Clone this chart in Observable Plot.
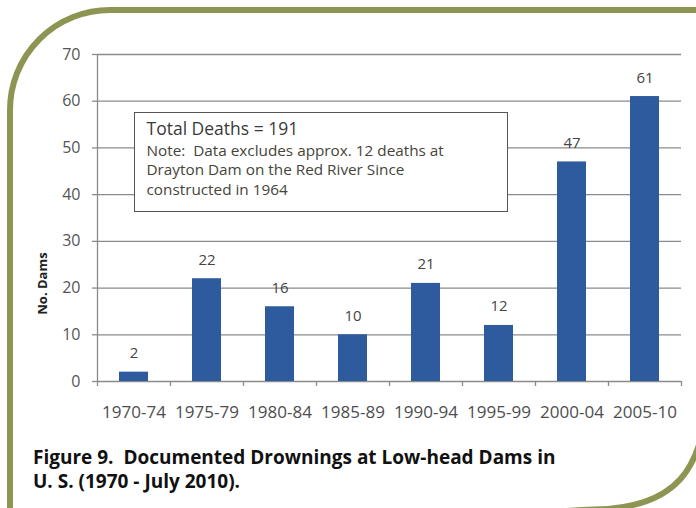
<!DOCTYPE html>
<html><head><meta charset="utf-8">
<script src="https://cdn.jsdelivr.net/npm/d3@7"></script>
<script src="https://cdn.jsdelivr.net/npm/@observablehq/plot@0.6"></script>
<style>
html,body{margin:0;padding:0;background:#fff;}
#wrap{position:relative;width:696px;height:508px;overflow:hidden;background:#fff;font-family:"Open Sans",sans-serif;}
#frame{position:absolute;left:0;top:0;}
#chart{position:absolute;left:0;top:0;}
#note{position:absolute;left:134px;top:112px;width:374px;height:100px;box-sizing:border-box;border:1.5px solid #555;background:#fff;padding:5px 0 0 11.5px;white-space:pre;}
#note .t{font-size:17.5px;line-height:20px;color:#3a3a3a;margin-bottom:2.5px;}
#note .n{font-size:15.3px;line-height:19.5px;color:#45453a;}
#caption{position:absolute;left:33px;top:445px;font-weight:bold;font-size:19px;line-height:24px;color:#111;white-space:pre;}
</style></head>
<body>
<div id="wrap">
  <div id="chart"></div>
  <div id="note"></div>
  <div id="caption"></div>
  <svg id="frame" width="696" height="508" viewBox="0 0 696 508">
    <path d="M10,530 L10,110 A100,100 0 0 1 110,10 L720,10" fill="none" stroke="#8e9552" stroke-width="6"/>
    <path d="M708,390 C704,470 676,508 594,509.5 C570,510 545,513 520,515 L-20,515" fill="none" stroke="#8e9552" stroke-width="6"/>
  </svg>
</div>
<script>
const periods = ["1970-74","1975-79","1980-84","1985-89","1990-94","1995-99","2000-04","2005-10"];
const deaths = [2, 22, 16, 10, 21, 12, 47, 61];
const yTicks = [0, 10, 20, 30, 40, 50, 60, 70];
const yLabel = "No. Dams";
const noteTitle = "Total Deaths = 191";
const noteLines = ["Note:  Data excludes approx. 12 deaths at", "Drayton Dam on the Red River Since", "constructed in 1964"];
const captionLines = ["Figure 9.  Documented Drownings at Low-head Dams in", "U. S. (1970 - July 2010)."];

const data = periods.map((p, i) => ({period: p, value: deaths[i]}));

const W = 696, H = 430, ML = 97, MR = 15, MT = 54, MB = 49;
const step = (W - ML - MR) / periods.length;
const gridColor = "#8a8a8a";

const chart = Plot.plot({
  width: W, height: H,
  marginTop: MT, marginBottom: MB, marginLeft: ML, marginRight: MR,
  style: {fontFamily: "Open Sans", background: "transparent"},
  x: {domain: periods, paddingInner: 0.6, paddingOuter: 0.3, axis: null},
  y: {domain: [0, 70], axis: null},
  marks: [
    Plot.ruleY(yTicks, {stroke: gridColor, strokeWidth: 1.3}),
    Plot.ruleX([periods[0]], {x: d => d, dx: -step / 2, y1: 0, y2: 70, stroke: gridColor, strokeWidth: 1.3}),
    Plot.ruleX(periods, {x: d => d, dx: -step / 2, y1: 0, y2: 0, insetBottom: -5, stroke: gridColor, strokeWidth: 1.3}),
    Plot.ruleX([periods[periods.length - 1]], {x: d => d, dx: step / 2, y1: 0, y2: 0, insetBottom: -5, stroke: gridColor, strokeWidth: 1.3}),
    Plot.axisY(yTicks, {anchor: "left", tickSize: 5, tickPadding: 12, fontSize: 16, fill: "#555", stroke: gridColor, strokeWidth: 1.3, label: null}),
    Plot.axisX({anchor: "bottom", tickSize: 0, tickPadding: 24, fontSize: 17, fill: "#4d4d4d", label: null}),
    Plot.barY(data, {x: "period", y: "value", fill: "#2d5b9d"}),
    Plot.text(data, {x: "period", y: "value", text: d => String(d.value), dy: -14, lineAnchor: "bottom", fontSize: 15, fill: "#444"}),
    Plot.text([yLabel], {frameAnchor: "bottom-left", rotate: -90, dx: -55, dy: -98, fontWeight: "bold", fontSize: 13, fill: "#222", textAnchor: "middle", lineAnchor: "middle"})
  ]
});
document.getElementById("chart").appendChild(chart);

const note = document.getElementById("note");
const t = document.createElement("div"); t.className = "t"; t.textContent = noteTitle; note.appendChild(t);
noteLines.forEach(s => { const d = document.createElement("div"); d.className = "n"; d.textContent = s; note.appendChild(d); });

const cap = document.getElementById("caption");
captionLines.forEach(s => { const d = document.createElement("div"); d.textContent = s; cap.appendChild(d); });
</script>
</body></html>
